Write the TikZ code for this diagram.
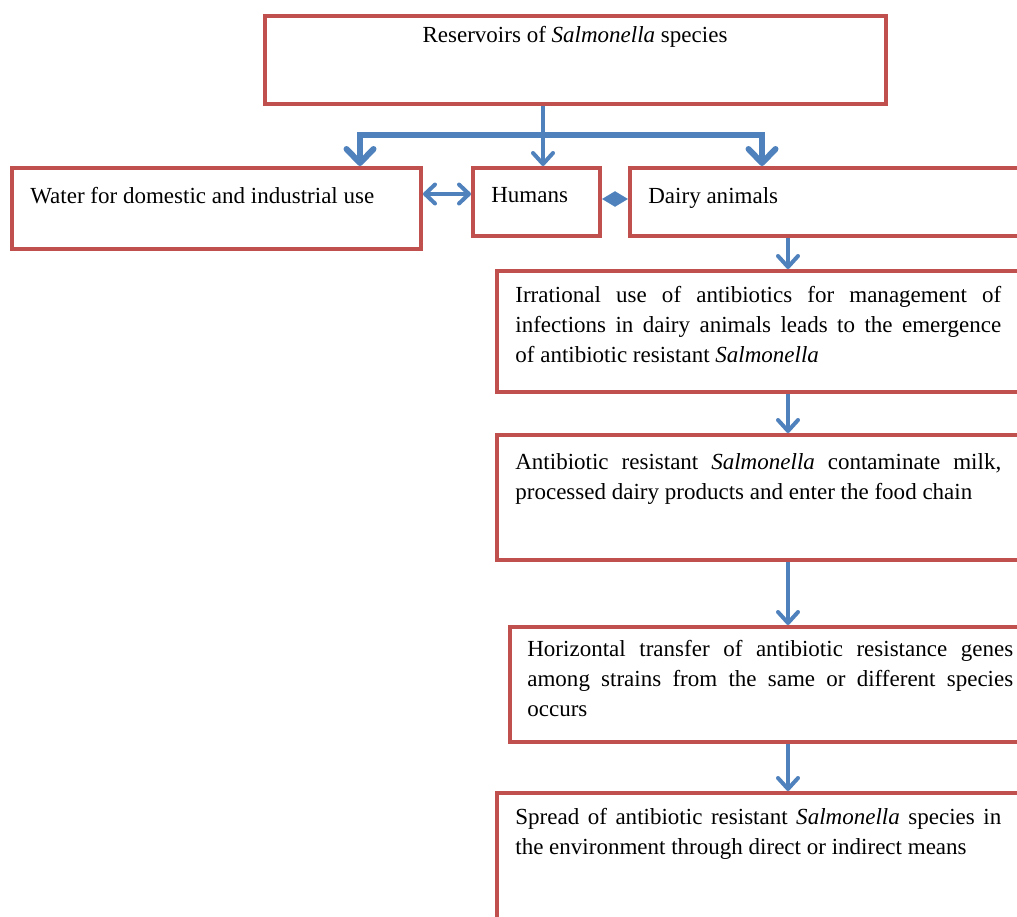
\documentclass[tikz,border=0pt]{standalone}
\usepackage{fontspec}
\setmainfont{Liberation Serif}
\usetikzlibrary{arrows.meta,fit}
\definecolor{boxred}{HTML}{C0504D}
\definecolor{flowblue}{HTML}{4F81BD}
\newcommand{\boxfont}{\fontsize{13.1pt}{17.1pt}\selectfont}
\newcommand{\salm}{\emph{Salmonella}}

\begin{document}
\begin{tikzpicture}[x=0.02cm, y=-0.02cm,
  box/.style={draw=boxred, line width=0.08cm, inner sep=0pt},
  lbl/.style={font=\boxfont, inner sep=0pt, anchor=north west},
  para/.style={lbl, text width=9.72cm, align=justify},
  flow/.style={draw=flowblue, line width=0.08cm,
    -{Straight Barb[round, length=0.22cm, width=0.4cm]}},
  twoway/.style={flow, {Straight Barb[round, length=0.2cm, width=0.38cm]}-{Straight Barb[round, length=0.2cm, width=0.38cm]}},
  branch/.style={draw=flowblue, line width=0.12cm,
    -{Straight Barb[round, length=0.28cm, width=0.54cm]}},
  swap/.style={draw=flowblue, line width=0.04cm,
    {Triangle[length=0.26cm, width=0.3cm]}-{Triangle[length=0.26cm, width=0.3cm]}}]
\useasboundingbox (0,0) rectangle (1017,916);
\clip (0,0) rectangle (1017,916);
% ---------------- reservoirs ----------------
\node[box, fit={(265,16) (886,104)}] (res) {};
\node[lbl, anchor=north] (res-t) at (575,26) {Reservoirs of \salm{} species};
\node[box, fit={(12,168) (421,249)}] (water) {};
\node[box, fit={(473,168) (600,236)}] (humans) {};
\node[box, fit={(630,168) (1019,236)}] (dairy) {};
\node[lbl] (water-t) at (30,187) {Water for domestic and industrial use};
\node[lbl] (humans-t) at (491,187) {Humans};
\node[lbl] (dairy-t) at (648,187) {Dairy animals};
% ---------------- chain below the dairy animals ----------------
\node[box, fit={(497,271) (1019,392)}] (irr) {};
\node[para] (irr-t) at (515,286) {Irrational use of antibiotics for management of\linebreak
  infections in dairy animals leads to the emergence\linebreak
  of antibiotic resistant \salm};
\node[box, fit={(497,435) (1019,560)}] (milk) {};
\node[para] (milk-t) at (515,453) {Antibiotic resistant \salm{} contaminate milk,\linebreak
  processed dairy products and enter the food chain};
\node[box, fit={(510,627) (1019,742)}] (hgt) {};
\node[para] (hgt-t) at (527,640) {Horizontal transfer of antibiotic resistance genes\linebreak
  among strains from the same or different species\linebreak
  occurs};
\node[box, fit={(497,793) (1019,950)}] (spread) {};
\node[para] (spread-t) at (515,808) {Spread of antibiotic resistant \salm{} species in\linebreak
  the environment through direct or indirect means};
% ---------------- arrows ----------------
\coordinate (hub) at (543,135);
\coordinate (barL) at (360,135);
\coordinate (barR) at (762,135);
\coordinate (spine) at (788,0);
\coordinate (lvlA) at (0,194);
\coordinate (lvlB) at (0,199);
\draw[branch] (hub) -| (water.north -| barL);
\draw[branch] (hub) -| (dairy.north -| barR);
\draw[flow] (res.south -| hub) -- (humans.north -| hub);
\draw[twoway] (water.east |- lvlA) -- (humans.west |- lvlA);
\draw[swap] (humans.east |- lvlB) -- (dairy.west |- lvlB);
\foreach \from/\to in {dairy/irr, irr/milk, milk/hgt, hgt/spread}
  \draw[flow] (\from.south -| spine) -- (\to.north -| spine);
\end{tikzpicture}
\end{document}
